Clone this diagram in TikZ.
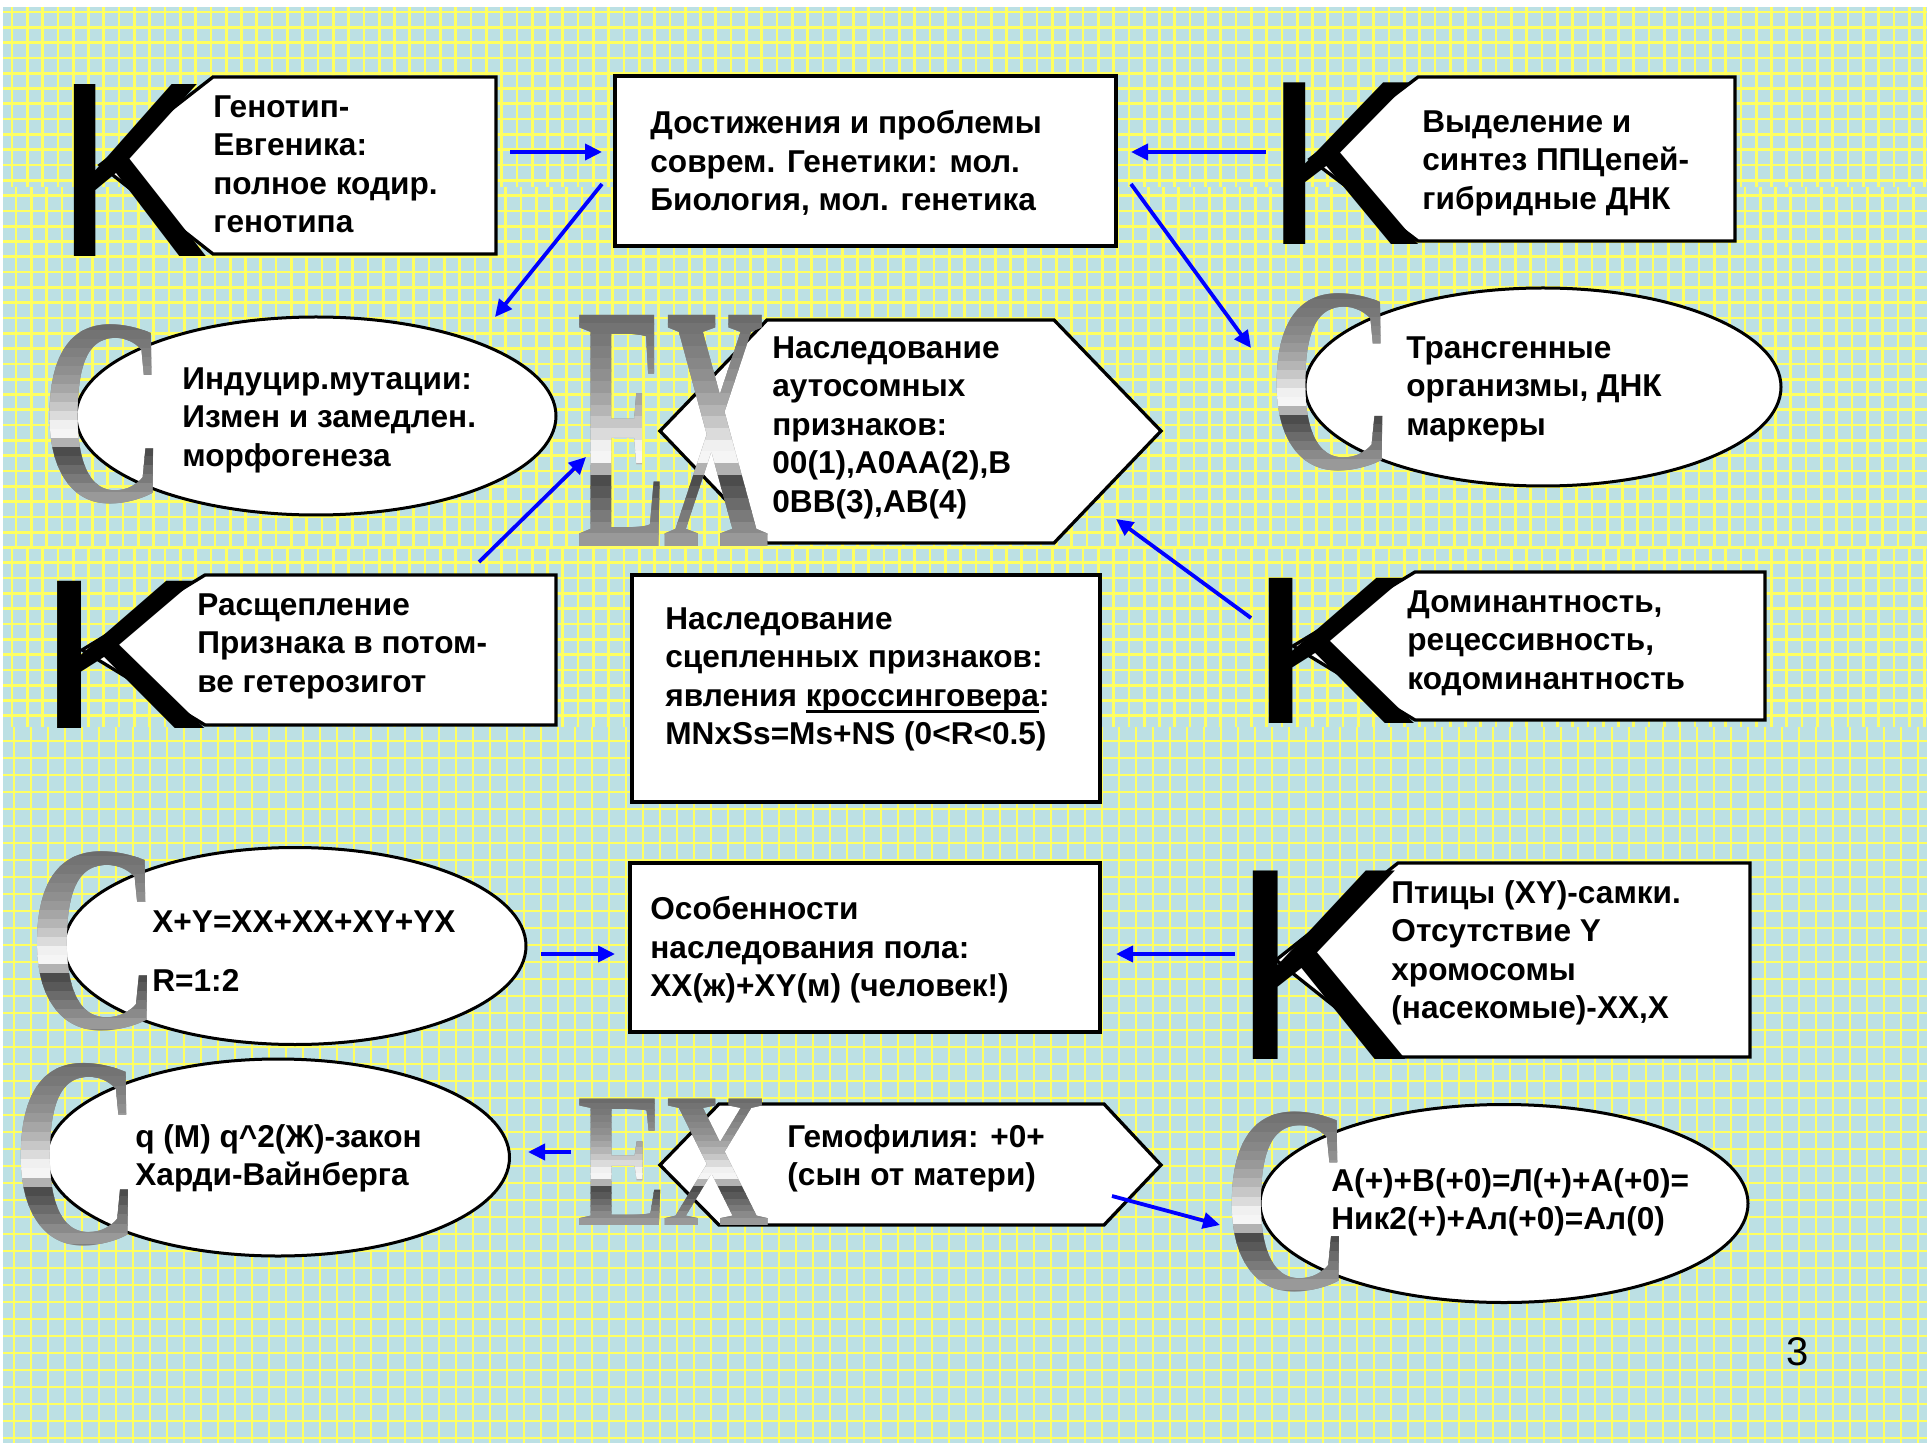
\documentclass[tikz,border=0pt]{standalone}
\usepackage{fontspec}
\usepackage{graphicx}
\setmainfont{Liberation Sans}
\newfontfamily\serifletters{Liberation Serif}[BoldFont={* Bold}]
\usetikzlibrary{arrows.meta,shapes.geometric}

\definecolor{paper}{RGB}{188,224,228}
\definecolor{gridy}{RGB}{255,255,96}
\definecolor{arrowblue}{RGB}{0,0,255}

\tikzset{
  txt/.style={inner sep=0pt, anchor=north west, align=left,
    font=\fontsize{15.8}{19.25}\selectfont\bfseries},
  boxline/.style={draw=black, fill=white, line width=1.65pt, line join=miter},
  rectbox/.style={boxline, rectangle, inner sep=0pt},
  oval/.style={draw=black, fill=white, line width=1.5pt, ellipse, inner sep=0pt},
  arr/.style={draw=arrowblue, line width=1.9pt, -{Triangle[length=8.5pt,width=8pt]}},
  gridline/.style={draw=gridy, line width=1.35pt},
}

% underlined word with a heavy rule
\newcommand\ulword[1]{\setbox0=\hbox{#1}\rlap{\rule[-3.2pt]{\wd0}{1.5pt}}\box0}

% big black sans letter K: name, x of origin, baseline, size (pt), horizontal scale
\newcommand\bigK[5]{%
  \node[inner sep=0pt, anchor=base west] (#1) at (#2,#3)
    {\fontsize{#4}{#4}\selectfont\scalebox{#5}[1]{K}};}

% silver serif letter, shaded in horizontal bands:
% name, x of origin, baseline, ink top, size (pt), horizontal scale, letter
\newcommand\metal[7]{%
  \node[inner sep=0pt, anchor=base west, text=black!50] (#1) at (#2,#3)
    {\fontsize{#5}{#5}\serifletters\bfseries\scalebox{#6}[1]{#7}};
  \foreach \k/\g in {0/58,1/55,2/53,3/50,4/47,5/44,6/40,7/35,8/29,9/22,
                     10/14,11/6,12/4,13/30,14/70,15/65,16/58,17/52,18/46,19/40}{
    \begin{scope}
      \clip ({#2-10},{#4+(\k-0.05)*(#3-#4)/20}) rectangle ({#2+400},{#4+(\k+1.05)*(#3-#4)/20});
      \node[inner sep=0pt, anchor=base west, text=black!\g] (#1-\k) at (#2,#3)
        {\fontsize{#5}{#5}\serifletters\bfseries\scalebox{#6}[1]{#7}};
    \end{scope}}}

\begin{document}
\begin{tikzpicture}[x=0.5pt,y=-0.5pt]
\useasboundingbox (0,0) rectangle (1927,1443);
\fill[white] (0,0) rectangle (1927,1443);
\fill[paper] (3,7) rectangle (1927,1443);

% squared paper
\begin{scope}
  \clip (3,7) rectangle (1927,1443);
  \foreach \ya/\yb/\xo in {7/187/12, 187/547/16, 547/727/12}{
    \foreach \x in {0,...,125}
      \draw[gridline] ({\xo+15.3*\x},\ya) -- ({\xo+15.3*\x},\yb);}
  \foreach \y in {0,...,46}
    \draw[gridline] (3,{12+15.3*\y}) -- (1927,{12+15.3*\y});
  \foreach \x in {0,...,113}
    \draw[gridline] ({14+17*\x},727) -- ({14+17*\x},1443);
  \foreach \y in {0,...,41}
    \draw[gridline] (3,{741+17*\y}) -- (1927,{741+17*\y});
\end{scope}

% ---- frames ----
\draw[boxline] (213,77) -- (496,77) -- (496,254) -- (213,254) -- (100,165) -- cycle;
\node[rectbox, minimum width=250.5pt, minimum height=85pt] (boxB) at (865.5,161) {};
\draw[boxline] (1418,77) -- (1735,77) -- (1735,241) -- (1418,241) -- (1310,159) -- cycle;
\node[oval, minimum width=240pt, minimum height=99pt] (ovD) at (316,416) {};
\draw[boxline] (660,431) -- (767,320) -- (1054,320) -- (1161,431) -- (1054,543) -- (767,543) -- cycle;
\node[oval, minimum width=238pt, minimum height=99pt] (ovF) at (1543,387) {};
\draw[boxline] (205,575) -- (556,575) -- (556,725) -- (205,725) -- (82,650) -- cycle;
\node[rectbox, line width=2pt, minimum width=234pt, minimum height=113.5pt] (boxH) at (866,688.5) {};
\draw[boxline] (1415,572) -- (1765,572) -- (1765,720) -- (1415,720) -- (1293,646) -- cycle;
\node[oval, minimum width=231pt, minimum height=98.5pt] (ovJ) at (295,946) {};
\node[rectbox, minimum width=235pt, minimum height=84.5pt] (boxK) at (865,947.5) {};
\draw[boxline] (1398,863) -- (1750,863) -- (1750,1057) -- (1398,1057) -- (1276,960) -- cycle;
\node[oval, minimum width=231.5pt, minimum height=98.5pt] (ovM) at (278,1157.5) {};
\draw[boxline] (660,1165) -- (719,1104) -- (1104,1104) -- (1161,1165) -- (1104,1225) -- (719,1225) -- cycle;
\node[oval, minimum width=244pt, minimum height=99pt] (ovO) at (1504,1203.5) {};

% ---- initial letters ----
\bigK{kA}{55}{257}{125}{0.92}
\bigK{kC}{1264}{245}{117.5}{1.0}
\bigK{kG}{36}{728}{107}{1.2}
\bigK{kI}{1248.5}{723}{105.5}{1.2}
\bigK{kL}{1231}{1059}{137}{0.97}

\metal{cD}{41}{502}{322}{133.5}{0.65}{C}
\metal{cF}{1268.5}{469}{291}{132}{0.67}{C}
\metal{cJ}{28}{1028}{848}{133.5}{0.69}{C}
\metal{cM}{12}{1243}{1059}{136}{0.66}{C}
\metal{cO}{1223}{1289}{1106}{134}{0.67}{C}

\metal{eE}{577}{546}{312}{176.5}{0.38}{E}
\metal{xE}{662.5}{546}{312}{176.5}{0.42}{X}
\metal{eN}{577}{1225}{1097}{96.5}{0.70}{E}
\metal{xN}{662.5}{1225}{1097}{96.5}{0.77}{X}

% ---- texts ----
\node[txt] (tA) at (213,95) {Генотип-\\Евгеника:\\полное кодир.\\генотипа};
\node[txt] (tB) at (650,110) {Достижения и проблемы\\соврем. Генетики: мол.\\Биология, мол. генетика};
\node[txt] (tC) at (1422,110) {Выделение и\\синтез ППЦепей-\\гибридные ДНК};
\node[txt] (tD) at (182,367) {Индуцир.мутации:\\Измен и замедлен.\\морфогенеза};
\node[txt] (tE) at (772,336) {Наследование\\аутосомных\\признаков:\\00(1),A0AA(2),B\\0BB(3),AB(4)};
\node[txt] (tF) at (1406,336) {Трансгенные\\организмы, ДНК\\маркеры};
\node[txt] (tG) at (197,593) {Расщепление\\Признака в потом-\\ве гетерозигот};
\node[txt] (tH) at (665,607) {Наследование\\сцепленных признаков:\\явления \ulword{кроссинговера}:\\MNxSs=Ms+NS (0<R<0.5)};
\node[txt] (tI) at (1407,590) {Доминантность,\\рецессивность,\\кодоминантность};
\node[txt] (tJ) at (152,910) {X+Y=XX+XX+XY+YX\\[10.25pt]R=1:2};
\node[txt] (tK) at (650,896) {Особенности\\наследования пола:\\XX(ж)+XY(м) (человек!)};
\node[txt] (tL) at (1391,880) {Птицы (XY)-самки.\\Отсутствие Y\\хромосомы\\(насекомые)-XX,X};
\node[txt] (tM) at (135,1124) {q (M) q\textasciicircum 2(Ж)-закон\\Харди-Вайнберга};
\node[txt] (tN) at (787,1124) {Гемофилия: +0+\\(сын от матери)};
\node[txt] (tO) at (1331,1168) {А(+)+В(+0)=Л(+)+А(+0)=\\Ник2(+)+Ал(+0)=Ал(0)};

\node[inner sep=0pt, font=\fontsize{20}{20}\selectfont] (pg) at (1798,1352) {3};

% ---- connectors ----
\coordinate (a1s) at (510,152);  \coordinate (a1e) at (602,152);
\coordinate (a2s) at (602,184);  \coordinate (a2e) at (495,317);
\coordinate (a3s) at (1266,152); \coordinate (a3e) at (1131,152);
\coordinate (a4s) at (1131,184); \coordinate (a4e) at (1251,348);
\coordinate (a5s) at (479,562);  \coordinate (a5e) at (586,457);
\coordinate (a6s) at (1251,618); \coordinate (a6e) at (1116,519);
\coordinate (a7s) at (541,954);  \coordinate (a7e) at (615,954);
\coordinate (a8s) at (1235,954); \coordinate (a8e) at (1116,954);
\coordinate (a9s) at (571,1152); \coordinate (a9e) at (528,1152);
\coordinate (a10s) at (1112,1196); \coordinate (a10e) at (1220,1225);
\foreach \n in {1,...,10}
  \draw[arr] (a\n s) -- (a\n e);
\end{tikzpicture}
\end{document}
